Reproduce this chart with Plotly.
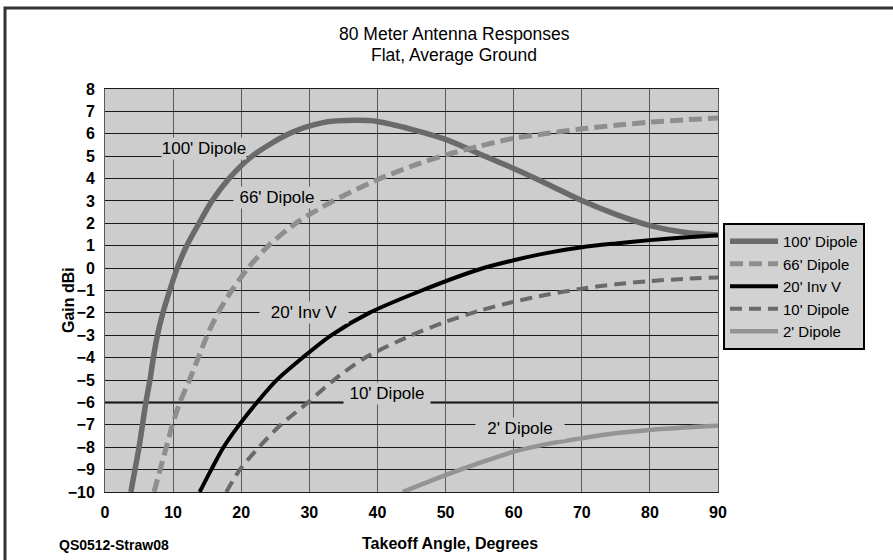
import plotly.graph_objects as go

# ---- data ----
dipole100_x = [3.8, 4.4, 5.0, 5.5, 6.0, 6.6, 7.1, 7.7, 8.5, 9.5, 10.6, 12.0, 13.8, 15.7, 18.2, 21.6, 27, 32, 37, 40, 45, 50, 55, 60, 65, 70, 75, 80, 85, 90]
dipole100_y = [-10, -9, -8, -7, -6, -5, -4, -3, -2, -1, 0, 1, 2, 3, 4, 5, 6, 6.5, 6.6, 6.55, 6.2, 5.75, 5.1, 4.45, 3.75, 3.02, 2.4, 1.9, 1.6, 1.48]

dipole66_x = [7.2, 8.1, 9.0, 9.9, 11.0, 12.4, 13.7, 15.0, 16.6, 18.6, 21.0, 24.0, 28.0, 33.5, 40, 45, 50, 55, 60, 65, 70, 75, 80, 85, 90]
dipole66_y = [-10, -9, -8, -7, -6, -5, -4, -3, -2, -1, 0, 1, 2, 3, 3.95, 4.55, 5.05, 5.45, 5.8, 6.02, 6.22, 6.38, 6.52, 6.62, 6.7]

invv20_x = [13.9, 15.6, 17.4, 19.7, 22.3, 25.2, 29.0, 33.2, 38.8, 46.5, 55, 60, 65, 70, 75, 80, 85, 90]
invv20_y = [-10, -9, -8, -7, -6, -5, -4, -3, -2, -1, -0.05, 0.35, 0.68, 0.93, 1.1, 1.25, 1.37, 1.47]

dipole10_x = [17.8, 19.8, 22.6, 25.8, 29.8, 33.6, 38.2, 45.0, 50, 55, 60, 65, 70, 75, 80, 85, 90]
dipole10_y = [-10, -9, -8, -7, -6, -5, -4, -3.0, -2.4, -1.9, -1.5, -1.18, -0.92, -0.72, -0.58, -0.48, -0.42]

dipole2_x = [43.7, 50, 55, 60, 65, 70, 75, 80, 85, 90]
dipole2_y = [-10, -9.25, -8.7, -8.2, -7.85, -7.6, -7.38, -7.23, -7.12, -7.04]

series_names = ["100' Dipole", "66' Dipole", "20' Inv V", "10' Dipole", "2' Dipole"]

# in-chart labels
label_text = ["100' Dipole", "66' Dipole", "20' Inv V", "10' Dipole", "2' Dipole"]
label_x = [14.6, 25.3, 29.2, 41.4, 61.0]
label_y = [5.35, 3.15, -2.0, -5.62, -7.15]
label_w = [84, 86, 88, 86, 88]

x_ticks = [0, 10, 20, 30, 40, 50, 60, 70, 80, 90]
y_ticks = list(range(-10, 9))

FONT = "Liberation Sans, Arial, sans-serif"
PLOT_BG = "#cdcdcd"

W, H = 893, 560
L, R, T, B = 105, 175, 89, 68
PW, PH = W - L - R, H - T - B


def px(xp):
    return (xp - L) / PW


def py(yp):
    return (H - B - yp) / PH


fig = go.Figure()

styles = [
    dict(color="#6a6a6a", width=5.5, dash="solid"),
    dict(color="#8e8e8e", width=5, dash="13px,6px"),
    dict(color="#000000", width=4, dash="solid"),
    dict(color="#6a6a6a", width=4, dash="12px,7px"),
    dict(color="#949494", width=4.5, dash="solid"),
]
xs = [dipole100_x, dipole66_x, invv20_x, dipole10_x, dipole2_x]
ys = [dipole100_y, dipole66_y, invv20_y, dipole10_y, dipole2_y]

for name, x, y, st in zip(series_names, xs, ys, styles):
    fig.add_trace(go.Scatter(x=x, y=y, mode="lines", name=name,
                             line=dict(shape="spline", smoothing=0.8, **st),
                             hoverinfo="skip"))

annotations = []
for t, x, y, w in zip(label_text, label_x, label_y, label_w):
    annotations.append(dict(text=t, x=x, y=y, xref="x", yref="y", showarrow=False,
                            bgcolor=PLOT_BG, width=w, height=21, borderpad=0,
                            font=dict(family=FONT, size=17, color="black")))

outer = [
    ("80 Meter Antenna Responses", 454, 33.5, 0, 17.5, "normal"),
    ("Flat, Average Ground", 454, 55, 0, 17.5, "normal"),
    ("Gain dBi", 68, 300, -90, 16, "bold"),
    ("QS0512-Straw08", 113.5, 545, 0, 14, "bold"),
    ("Takeoff Angle, Degrees", 449.5, 543, 0, 16, "bold"),
]
for t, xp, yp, ang, fs, wt in outer:
    annotations.append(dict(text=t, x=px(xp), y=py(yp), xref="paper", yref="paper",
                            showarrow=False, textangle=ang, xanchor="center", yanchor="middle",
                            font=dict(family=FONT, size=fs, color="black", weight=wt)))

shapes = [
    dict(type="line", xref="x", yref="y", x0=0, x1=90, y0=-6, y1=-6,
         line=dict(color="black", width=2), layer="below"),
    dict(type="rect", xref="paper", yref="paper", x0=px(5), x1=px(905), y0=py(570), y1=py(8),
         line=dict(color="#333333", width=3), layer="above"),
]

fig.update_layout(
    width=W, height=H,
    margin=dict(l=L, r=R, t=T, b=B, pad=0),
    paper_bgcolor="white",
    plot_bgcolor=PLOT_BG,
    font=dict(family=FONT, size=16, color="black"),
    showlegend=True,
    legend=dict(x=px(723), y=py(223), xanchor="left", yanchor="top",
                bgcolor="#d2d2d2", bordercolor="black", borderwidth=2,
                font=dict(family=FONT, size=15, color="black"),
                tracegroupgap=0, itemwidth=48,
                entrywidth=100, entrywidthmode="pixels"),
    annotations=annotations,
    shapes=shapes,
    xaxis=dict(range=[0, 90], tickvals=x_ticks, showgrid=True, gridcolor="#5a5a5a", gridwidth=1,
               zeroline=False, showline=True, mirror=True, linecolor="#1a1a1a", linewidth=1,
               ticks="", ticklabelstandoff=6,
               tickfont=dict(family=FONT, size=16, color="black", weight="bold"),
               fixedrange=True),
    yaxis=dict(range=[-10, 8], tickvals=y_ticks, showgrid=True, gridcolor="#1a1a1a", gridwidth=1,
               zeroline=False, showline=True, mirror=True, linecolor="#5a5a5a", linewidth=1,
               ticks="", ticklabelstandoff=6,
               tickfont=dict(family=FONT, size=16, color="black", weight="bold"),
               fixedrange=True),
)

fig.write_html("out.html", config={"displayModeBar": False},
               post_script="document.body.style.margin='0';document.body.style.overflow='hidden';")
